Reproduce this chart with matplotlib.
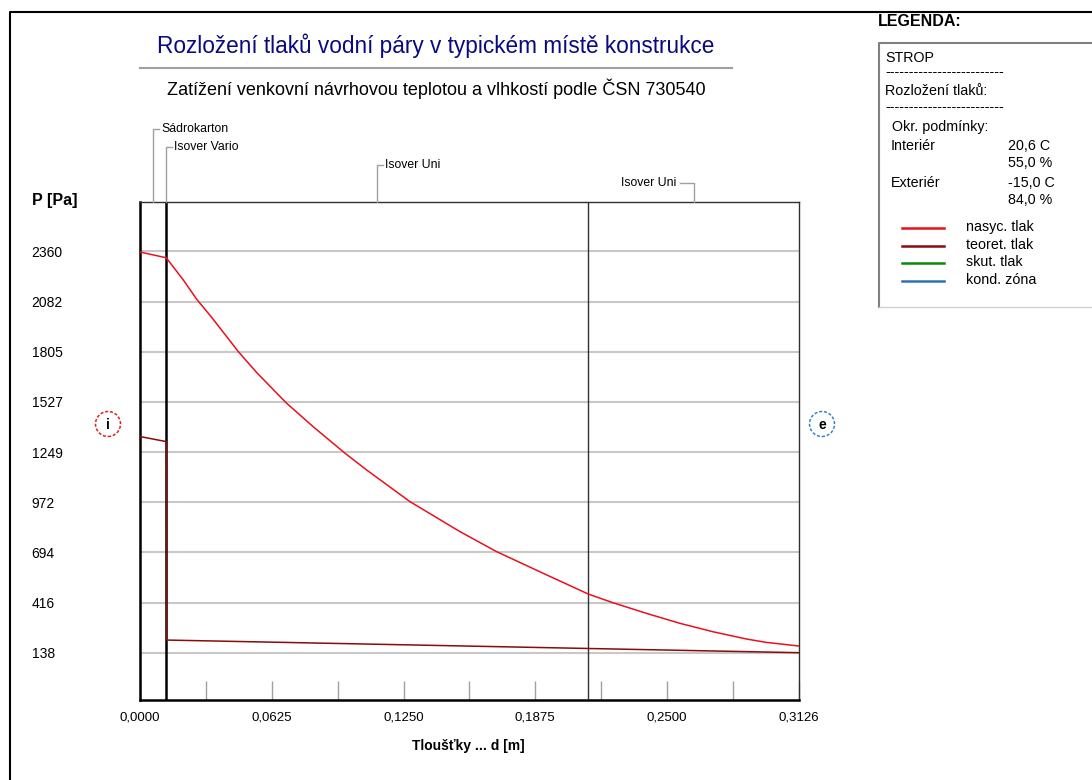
import numpy as np
import matplotlib
matplotlib.use('Agg')
import matplotlib.pyplot as plt
from matplotlib.lines import Line2D
from matplotlib.patches import Ellipse

W, H = 1092, 780

# layers of the construction (thickness in m)
layer_names = ['Sádrokarton', 'Isover Vario', 'Isover Uni', 'Isover Uni']
layer_d = [0.0125, 0.0001, 0.2000, 0.1000]

# saturated vapour pressure (nasyc. tlak)
d_sat = [0, 0.0125, 0.0126, 0.0205, 0.0269, 0.0340, 0.0466, 0.0553, 0.0695, 0.0821,
         0.0972, 0.1075, 0.1280, 0.1517, 0.1691, 0.1912, 0.2126, 0.2243, 0.2402,
         0.2560, 0.2718, 0.2876, 0.2971, 0.3126]
p_sat = [2357, 2325, 2323, 2203, 2095, 1995, 1806, 1690, 1520, 1390,
         1243, 1150, 975, 809, 698, 578, 463, 415, 356,
         301, 254, 214, 195, 175]

# theoretical partial pressure (teoret. tlak)
d_teo = [0, 0.0125, 0.0126, 0.3126]
p_teo = [1335, 1307, 208, 138]

y_ticks = [138, 415.75, 693.5, 971.25, 1249, 1526.75, 1804.5, 2082.25, 2360]
y_labels = ['138', '416', '694', '972', '1249', '1527', '1805', '2082', '2360']
x_ticks = [0, 0.0625, 0.125, 0.1875, 0.25, 0.3126]
x_labels = ['0,0000', '0,0625', '0,1250', '0,1875', '0,2500', '0,3126']
x_minor = [0.03125, 0.09375, 0.15625, 0.21875, 0.28125]

plt.rcParams['font.family'] = ['Liberation Sans', 'DejaVu Sans']

RED = '#e8101e'
DRED = '#8b0a0a'
GRID = '#c8c8c8'
LGRAY = '#a0a0a0'


def fx(px):
    return px / W


def fy(py):
    return 1 - py / H


fig = plt.figure(figsize=(W / 100, H / 100), dpi=100)
fig.patch.set_facecolor('white')

ax = fig.add_axes([fx(140), fy(700), fx(799) - fx(140), fy(202) - fy(700)])
ax.set_xlim(0, sum(layer_d))
ax.set_ylim(-124, 2634)

for y in y_ticks:
    ax.axhline(y, color=GRID, lw=1.5, zorder=1)

ax.plot(d_sat, p_sat, color=RED, lw=1.1, zorder=4)
ax.plot(d_teo, p_teo, color=DRED, lw=1.1, zorder=4)

# layer boundaries
bounds = np.cumsum(layer_d)
ax.axvline(bounds[0], color='black', lw=1.8, zorder=3)
ax.axvline(bounds[2], color='#303030', lw=1.0, zorder=3)

ax.set_yticks(y_ticks)
ax.set_yticklabels(y_labels, fontsize=10)
ax.tick_params(axis='y', length=0, pad=78)
for lab in ax.get_yticklabels():
    lab.set_horizontalalignment('left')

ax.set_xticks(x_ticks)
ax.set_xticklabels(x_labels, fontsize=9.5)
ax.set_xticks(x_minor, minor=True)
ax.tick_params(axis='x', which='both', direction='in', length=14, width=1,
               color=LGRAY, pad=8)

for s in ['left', 'bottom']:
    ax.spines[s].set_linewidth(1.8)
for s in ['top', 'right']:
    ax.spines[s].set_linewidth(1.0)
    ax.spines[s].set_color('#303030')

# layer label leaders
starts = np.concatenate([[0], bounds[:-1]])
mids = starts + np.array(layer_d) / 2
label_y = [129, 147, 165, 183]
for i, (name, m) in enumerate(zip(layer_names, mids)):
    xp = 140 + m / sum(layer_d) * 659
    yp = label_y[i]
    if i < 3:
        fig.add_artist(Line2D([fx(xp), fx(xp), fx(xp + 6)], [fy(202), fy(yp), fy(yp)],
                              color=LGRAY, lw=1))
        fig.text(fx(xp + 8), fy(yp), name, fontsize=8.8, ha='left', va='center')
    else:
        fig.add_artist(Line2D([fx(xp), fx(xp), fx(xp - 14)], [fy(202), fy(yp), fy(yp)],
                              color=LGRAY, lw=1))
        fig.text(fx(xp - 17), fy(yp), name, fontsize=8.8, ha='right', va='center')

# titles
fig.text(fx(436), fy(46), 'Rozložení tlaků vodní páry v typickém místě konstrukce',
         fontsize=16.3, color='#0a0a80', ha='center', va='center')
fig.add_artist(Line2D([fx(140), fx(732)], [fy(68), fy(68)], color=LGRAY, lw=1.5))
fig.text(fx(436), fy(89), 'Zatížení venkovní návrhovou teplotou a vlhkostí podle ČSN 730540',
         fontsize=13, ha='center', va='center')

fig.text(fx(32), fy(200), 'P [Pa]', fontsize=11.5, fontweight='bold', ha='left', va='center')
fig.text(fx(468), fy(746), 'Tloušťky ... d [m]', fontsize=10, fontweight='bold',
         ha='center', va='center')

# interior / exterior markers
for cx, col, t in [(108, '#e02020', 'i'), (822, '#3a82c8', 'e')]:
    fig.add_artist(Ellipse((fx(cx), fy(424)), 25 / W, 25 / H, transform=fig.transFigure,
                           fill=False, edgecolor=col, lw=1.1, linestyle=(0, (2, 1.2))))
    fig.text(fx(cx), fy(425), t, fontsize=10, fontweight='bold', ha='center', va='center')

# outer frame
fig.add_artist(Line2D([fx(10), fx(10), fx(1092)], [fy(780), fy(12), fy(12)],
                      color='black', lw=1.5))

# legend panel
fig.text(fx(878), fy(22), 'LEGENDA:', fontsize=11.5, fontweight='bold',
         ha='left', va='center')
fig.add_artist(Line2D([fx(879), fx(879), fx(1092)], [fy(307), fy(43), fy(43)],
                      color='#808080', lw=1.5))
fig.add_artist(Line2D([fx(879), fx(1092)], [fy(307), fy(307)], color='#d0d0d0', lw=1))

LF = dict(fontsize=10.3, ha='left', va='center')
fig.text(fx(885), fy(58), 'STROP', **LF)
fig.text(fx(885), fy(72), '-' * 25, **LF)
fig.text(fx(885), fy(91), 'Rozložení tlaků:', **LF)
fig.text(fx(885), fy(107), '-' * 25, **LF)
fig.text(fx(892), fy(127), 'Okr. podmínky:', **LF)
cond_names = ['Interiér', '', 'Exteriér', '']
cond_vals = ['20,6 C', '55,0 %', '-15,0 C', '84,0 %']
cond_y = [146, 163, 183, 200]
for n, v, y in zip(cond_names, cond_vals, cond_y):
    fig.text(fx(891), fy(y), n, **LF)
    fig.text(fx(1008), fy(y), v, **LF)

legend_names = ['nasyc. tlak', 'teoret. tlak', 'skut. tlak', 'kond. zóna']
legend_colors = [RED, DRED, '#0a8a0a', '#2a72b8']
legend_y = [228, 246, 263, 281]
for n, c, y in zip(legend_names, legend_colors, legend_y):
    fig.add_artist(Line2D([fx(902), fx(944)], [fy(y), fy(y)], color=c, lw=1.8))
    fig.text(fx(966), fy(y - 1), n, **LF)

fig.savefig('out.png', dpi=100)
plt.close(fig)
